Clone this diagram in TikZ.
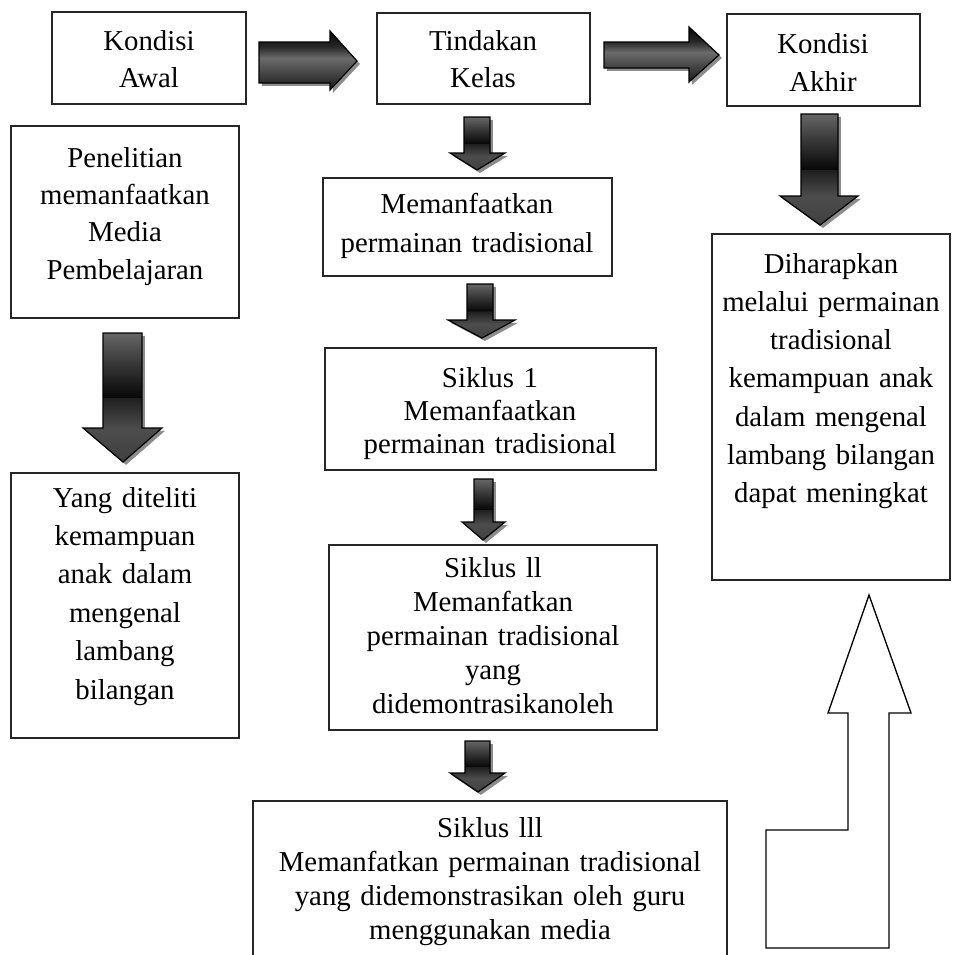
\documentclass[tikz,border=0pt]{standalone}
\usepackage{fontspec}
\setmainfont{Liberation Serif}
\usetikzlibrary{fit,shadows}
\pgfdeclareverticalshading{downshade}{100bp}{color(0bp)=(black!75); color(25bp)=(black!75); color(38bp)=(black!70); color(49.8bp)=(black!88); color(50bp)=(black!97); color(62bp)=(black!80); color(75bp)=(black!60); color(100bp)=(black!60)}
\pgfdeclareverticalshading{sideshade}{100bp}{color(0bp)=(black!90); color(25bp)=(black!90); color(42bp)=(black!70); color(52bp)=(black!58); color(62bp)=(black!85); color(75bp)=(black!97); color(100bp)=(black!97)}
\tikzset{
  box/.style={draw=black!85, line width=1pt, inner sep=0pt, fill=white},
  txt/.style={anchor=base, align=center, text width=13cm, inner sep=0pt},
  darr/.style={draw=black, line width=0.9pt, line join=miter, shading=downshade,
    drop shadow={shadow xshift=2.2pt, shadow yshift=-2.2pt, fill=black!45, opacity=1}},
  harr/.style={draw=black, line width=0.9pt, line join=miter, shading=sideshade,
    drop shadow={shadow xshift=2.2pt, shadow yshift=-2.2pt, fill=black!45, opacity=1}},
}
\newcommand{\downarrowshape}[9]{% sl sr top hb hl hr tx ty name
  \shade[darr] (#1,#3) -- (#2,#3) -- (#2,#4) -- (#6,#4) -- (#7,#8) -- (#5,#4) -- (#1,#4) -- cycle;
  \coordinate (#9) at (#7,#8);}
\begin{document}
\begin{tikzpicture}[x=0.75pt,y=-0.75pt]
\useasboundingbox (0,0) rectangle (966,954);
\clip (0,0) rectangle (966,954);
% boxes
\node[box, fit={(52,12) (246,104)}] (b1) {};
\node[box, fit={(377,13) (590,104)}] (b2) {};
\node[box, fit={(727,14) (920,106)}] (b3) {};
\node[box, fit={(11,126) (239,318)}] (b4) {};
\node[box, fit={(11,473) (239,738)}] (b5) {};
\node[box, fit={(323,178) (612,276)}] (b6) {};
\node[box, fit={(325,348) (656,470)}] (b7) {};
\node[box, fit={(329,545) (657,730)}] (b8) {};
\node[box, fit={(253,801) (727,975)}] (b9) {};
\node[box, fit={(712,234) (950,580)}] (b10) {};
% texts
\node[txt, font={\fontsize{21.6}{27.75}\selectfont}] (t1) at (149,50) {Kondisi\\Awal};
\node[txt, font={\fontsize{21.6}{27.75}\selectfont}] (t2) at (483,50) {Tindakan\\Kelas};
\node[txt, font={\fontsize{21.6}{28.5}\selectfont}] (t3) at (823,53) {Kondisi\\Akhir};
\node[txt, font={\fontsize{21.6}{28}\selectfont}] (t4) at (125,167) {Penelitian\\memanfaatkan\\Media\\Pembelajaran};
\node[txt, font={\fontsize{21.6}{28.8}\selectfont}] (t5) at (125,507) {Yang diteliti\\kemampuan\\anak dalam\\mengenal\\lambang\\bilangan};
\node[txt, font={\fontsize{21.6}{29.25}\selectfont}] (t6) at (467,213) {Memanfaatkan\\permainan tradisional};
\node[txt, font={\fontsize{21.6}{24.75}\selectfont}] (t7) at (490,387) {Siklus 1\\Memanfaatkan\\permainan tradisional};
\node[txt, font={\fontsize{21.6}{25.5}\selectfont}] (t8) at (493,577) {Siklus ll\\Memanfatkan\\permainan tradisional\\yang\\didemontrasikanoleh};
\node[txt, font={\fontsize{21.6}{25.5}\selectfont}] (t9) at (490,837) {Siklus lll\\Memanfatkan permainan tradisional\\yang didemonstrasikan oleh guru\\menggunakan media};
\node[txt, font={\fontsize{21.6}{28.7}\selectfont}] (t10) at (831,273) {Diharapkan\\melalui permainan\\tradisional\\kemampuan anak\\dalam mengenal\\lambang bilangan\\dapat meningkat};
% horizontal arrows
\shade[harr] (259,42) -- (330,42) -- (330,31) -- (357,61) -- (330,90) -- (330,83) -- (259,83) -- cycle;
\coordinate (h1) at (357,61);
\shade[harr] (604,42) -- (689,42) -- (689,27) -- (719,55) -- (689,82) -- (689,68) -- (604,68) -- cycle;
\coordinate (h2) at (719,55);
% down arrows
\downarrowshape{464}{490}{117}{153}{450}{505}{477}{170}{dA}
\downarrowshape{467}{493}{284}{320}{448}{515}{482}{338}{dB}
\downarrowshape{474}{493}{479}{522}{462}{505}{483}{540}{dC}
\downarrowshape{465}{490}{741}{773}{450}{505}{478}{792}{dD}
\downarrowshape{103}{142}{333}{428}{83}{162}{123}{462}{dL}
\downarrowshape{801}{838}{114}{196}{780}{858}{820}{225}{dE}
% hollow bent up arrow
\draw[line width=1pt, line join=miter, fill=white] (869,595) -- (911,713) -- (889,713) -- (889,948) -- (766,948) -- (766,830) -- (848,830) -- (848,713) -- (828,713) -- cycle;
\coordinate (uptip) at (869,595);
\end{tikzpicture}
\end{document}
